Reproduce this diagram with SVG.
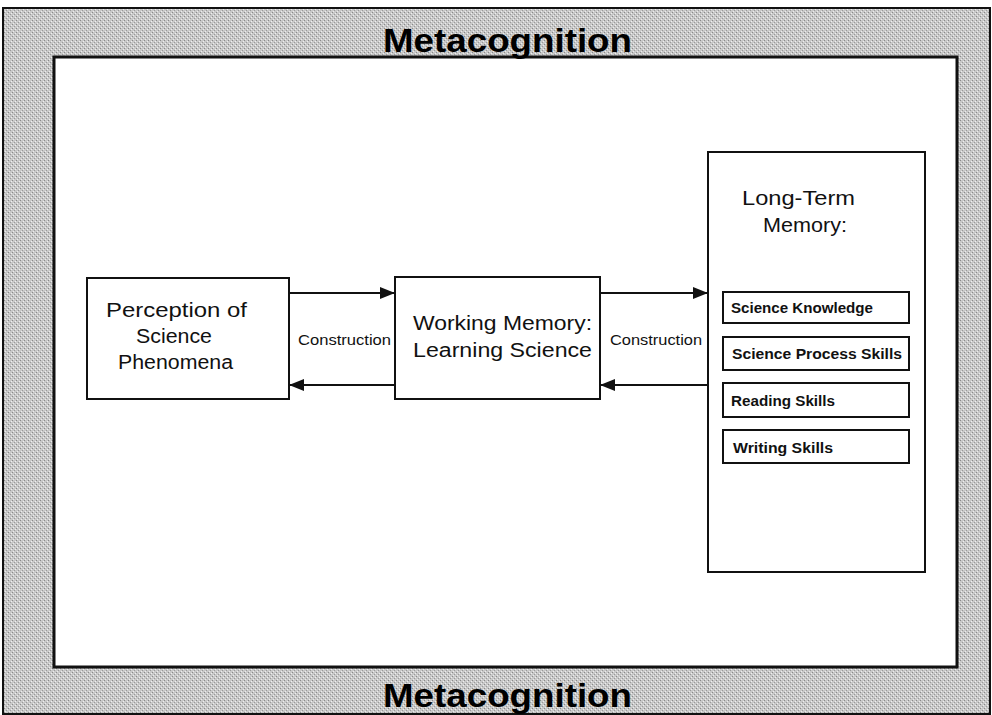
<svg xmlns="http://www.w3.org/2000/svg" width="992" height="715" viewBox="0 0 992 715">
<style>
.box{fill:#fff;stroke:#111;stroke-width:2}
.sub{fill:#fff;stroke:#111;stroke-width:2}
.big{font-family:"Liberation Sans",Arial,sans-serif;font-size:20px;fill:#111}
.small{font-family:"Liberation Sans",Arial,sans-serif;font-size:14px;fill:#111;font-weight:bold}
.lbl{font-family:"Liberation Sans",Arial,sans-serif;font-size:14px;fill:#111}
.meta{font-family:"Liberation Sans",Arial,sans-serif;font-size:33px;font-weight:bold;fill:#000}
.conn{stroke:#111;stroke-width:2;fill:none;marker-end:url(#ah)}
</style>
<defs>
<marker id="ah" viewBox="0 0 15 12" refX="15" refY="6" markerWidth="15" markerHeight="12" markerUnits="userSpaceOnUse" orient="auto">
<path d="M0,0 L15,6 L0,12 z" fill="#111"/>
</marker>
<pattern id="grain" width="4" height="4" patternUnits="userSpaceOnUse">
<rect width="4" height="4" fill="#c8c8c8"/>
<rect x="0" y="0" width="1" height="1" fill="#8a8a8a"/>
<rect x="2" y="2" width="1" height="1" fill="#9a9a9a"/>
<rect x="1" y="3" width="1" height="1" fill="#ececec"/>
<rect x="3" y="1" width="1" height="1" fill="#efefef"/>
</pattern>
</defs>
<rect width="992" height="715" fill="#fff"/>
<g id="metacognition-frame">
<rect x="3" y="8" width="987" height="706" fill="url(#grain)" stroke="#111" stroke-width="2"/>
<rect x="54" y="57" width="903" height="610" fill="#fff" stroke="#111" stroke-width="3"/>
<text class="meta" x="383" y="52" textLength="249" lengthAdjust="spacingAndGlyphs">Metacognition</text>
<text class="meta" x="383" y="707" textLength="249" lengthAdjust="spacingAndGlyphs">Metacognition</text>
</g>
<g id="perception">
<rect class="box" x="87" y="278" width="202" height="121"/>
<text class="big" x="106" y="317" textLength="141" lengthAdjust="spacingAndGlyphs">Perception  of</text>
<text class="big" x="136" y="343" textLength="76" lengthAdjust="spacingAndGlyphs">Science</text>
<text class="big" x="118" y="369" textLength="115" lengthAdjust="spacingAndGlyphs">Phenomena</text>
</g>
<g id="working-memory">
<rect class="box" x="395" y="277" width="205" height="122"/>
<text class="big" x="413" y="330" textLength="179" lengthAdjust="spacingAndGlyphs">Working  Memory:</text>
<text class="big" x="413" y="357" textLength="179" lengthAdjust="spacingAndGlyphs">Learning  Science</text>
</g>
<g id="long-term-memory">
<rect class="box" x="708" y="152" width="217" height="420"/>
<text class="big" x="742" y="205" textLength="113" lengthAdjust="spacingAndGlyphs">Long-Term</text>
<text class="big" x="763" y="232" textLength="84" lengthAdjust="spacingAndGlyphs">Memory:</text>
</g>
<g id="science-knowledge">
<rect class="sub" x="723" y="292" width="186" height="31"/>
<text class="small" x="731" y="313" textLength="142" lengthAdjust="spacingAndGlyphs">Science Knowledge</text>
</g>
<g id="science-process-skills">
<rect class="sub" x="723" y="337" width="186" height="33"/>
<text class="small" x="732" y="359" textLength="170" lengthAdjust="spacingAndGlyphs">Science  Process  Skills</text>
</g>
<g id="reading-skills">
<rect class="sub" x="723" y="383" width="186" height="34"/>
<text class="small" x="731" y="406" textLength="104" lengthAdjust="spacingAndGlyphs">Reading Skills</text>
</g>
<g id="writing-skills">
<rect class="sub" x="723" y="430" width="186" height="33"/>
<text class="small" x="733" y="453" textLength="100" lengthAdjust="spacingAndGlyphs">Writing  Skills</text>
</g>
<g id="connectors">
<line class="conn" x1="289" y1="293" x2="395" y2="293"/>
<line class="conn" x1="395" y1="385" x2="289" y2="385"/>
<line class="conn" x1="600" y1="293" x2="708" y2="293"/>
<line class="conn" x1="708" y1="385" x2="600" y2="385"/>
<text class="lbl" x="298" y="345" textLength="93" lengthAdjust="spacingAndGlyphs">Construction</text>
<text class="lbl" x="610" y="345" textLength="92" lengthAdjust="spacingAndGlyphs">Construction</text>
</g>
</svg>
